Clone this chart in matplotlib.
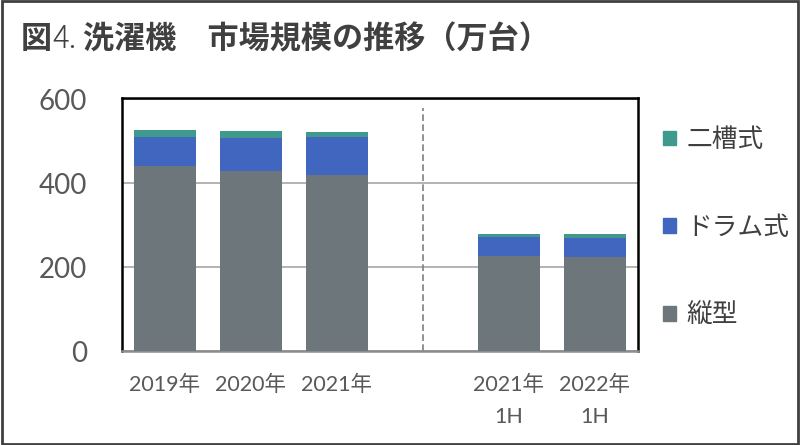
import matplotlib
matplotlib.use("Agg")
import matplotlib.pyplot as plt
from matplotlib.patches import Rectangle, Patch
import numpy as np

plt.rcParams['font.family'] = ['Lato', 'Noto Sans CJK JP', 'DejaVu Sans']

# data (万台)
labels = ['2019年', '2020年', '2021年', '2021年\n1H', '2022年\n1H']
pos = [0, 1, 2, 4, 5]
tate = [442, 430, 419, 226, 224]      # 縦型
drum = [68, 78, 90, 46, 46]           # ドラム式
nisou = [17, 16, 13, 8, 8]            # 二槽式
series_names = ['縦型', 'ドラム式', '二槽式']
colors = ['#6c767b', '#4166c0', '#3f9a8d']
yticks = [0, 200, 400, 600]

fig = plt.figure(figsize=(8, 4.45), dpi=100)
ax = fig.add_axes([122/800, 1 - 351/445, (638-122)/800, (351-98)/445])

bottom = np.zeros(len(pos))
for vals, c in zip([tate, drum, nisou], colors):
    ax.bar(pos, vals, width=0.71, bottom=bottom, color=c, zorder=3)
    bottom += np.array(vals)

ax.set_xlim(-0.5, 5.5)
ax.set_ylim(0, 603)
ax.set_yticks(yticks)
ax.set_yticklabels([str(v) for v in yticks], fontsize=20, color='#595959')
ax.set_xticks(pos)
ax.set_xticklabels(labels, fontsize=15.5, color='#595959', linespacing=1.75)
ax.tick_params(axis='y', length=0, pad=25)
ax.tick_params(axis='x', length=0, pad=17)
ax.yaxis.grid(True, color='#a6a6a6', linewidth=1.2, zorder=0)

# divider between full years and half years
ax.plot([3, 3], [0, 578], color='#7f7f7f', linestyle=(0, (4, 2)), linewidth=1.2, zorder=2)

for s in ['left', 'top', 'right']:
    ax.spines[s].set_color('black')
    ax.spines[s].set_linewidth(1.8)
ax.spines['bottom'].set_color('#8c8c8c')
ax.spines['bottom'].set_linewidth(1.8)

handles = [Patch(color=c) for c in colors][::-1]
leg = fig.legend(handles, series_names[::-1], loc='upper left',
                 bbox_to_anchor=(663/800, 1 - 127/445), frameon=False,
                 prop={'family': ['Noto Sans CJK JP'], 'size': 18.5},
                 labelspacing=2.4, handlelength=0.5, borderpad=0,
                 borderaxespad=0, handleheight=0.5, handletextpad=0.4)
for t in leg.get_texts():
    t.set_color('#404040')

# title
jp = ['Noto Sans CJK JP']
t1 = fig.text(21/800, 1 - 55/445, '図', fontsize=22.4, fontweight='bold',
              color='#404040', family=jp, va='bottom')
t2 = ax.annotate('4.', xy=(1, 0), xycoords=t1, fontsize=22.4, color='#404040',
                 family=jp, fontweight='light', va='bottom', annotation_clip=False)
ax.annotate(' 洗濯機　市場規模の推移（万台）', xy=(1, 0), xycoords=t2, fontsize=22.4,
            fontweight='bold', color='#404040', family=jp,
            va='bottom', annotation_clip=False)

fig.patches.append(Rectangle((0.002, 0.003), 0.996, 0.994, transform=fig.transFigure,
                             fill=False, edgecolor='#404040', linewidth=2))

fig.savefig('out.png', dpi=100)
